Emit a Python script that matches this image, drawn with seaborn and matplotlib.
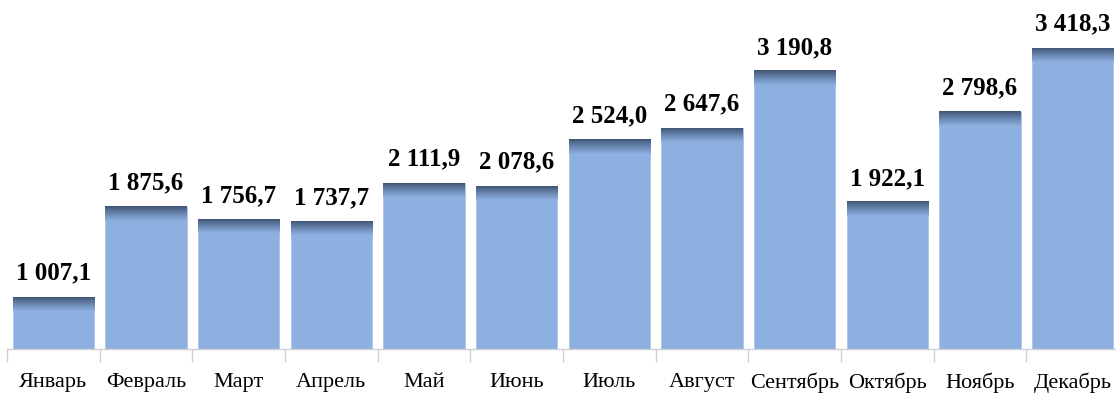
import numpy as np
import pandas as pd
import matplotlib
matplotlib.use("Agg")
import matplotlib.pyplot as plt
import seaborn as sns
from matplotlib.colors import to_rgb

months = ["Январь", "Февраль", "Март", "Апрель", "Май", "Июнь",
          "Июль", "Август", "Сентябрь", "Октябрь", "Ноябрь", "Декабрь"]
values = [1007.1, 1875.6, 1756.7, 1737.7, 2111.9, 2078.6,
          2524.0, 2647.6, 3190.8, 1922.1, 2798.6, 3418.3]

bar_color = "#8DB0E1"
top_color = "#3F5474"

sns.set_theme(style="white")
plt.rcParams["font.family"] = ["Liberation Serif", "DejaVu Serif"]

df = pd.DataFrame({"month": months, "value": values})

fig = plt.figure(figsize=(11.16, 3.94), dpi=100)
ax = fig.add_axes([7 / 1116, 1 - 349 / 394, 1112 / 1116, 349 / 394])

sns.barplot(data=df, x="month", y="value", color=bar_color, saturation=1,
            width=0.875, edgecolor="#A9C3E8", linewidth=0.6, ax=ax, zorder=2)

ax.set_xlim(-0.5, len(months) - 0.5)
ax.set_ylim(500, 3884)

# dark shaded band along the top of every bar
band_px = 14
y0, y1 = ax.get_ylim()
band = band_px * (y1 - y0) / (ax.bbox.height)
c_top = np.array(to_rgb(top_color))
c_bar = np.array(to_rgb(bar_color))
t = np.linspace(0, 1, 64)[:, None]
ramp = np.clip(t ** 0.9, 0, 1)
grad = c_top[None, :] * (1 - ramp) + c_bar[None, :] * ramp
img = grad[:, None, :]
for p in ax.patches:
    x0, w, h = p.get_x(), p.get_width(), p.get_height()
    top = p.get_y() + h
    ax.imshow(img, extent=[x0, x0 + w, top - band, top], origin="upper",
              aspect="auto", zorder=3, interpolation="bilinear")
    ax.annotate(f"{h:,.1f}".replace(",", " ").replace(".", ","),
                xy=(x0 + w / 2, top), xytext=(0, 9), textcoords="offset points",
                ha="center", va="bottom", fontsize=18, fontweight="bold",
                color="black")
ax.set_xlim(-0.5, len(months) - 0.5)
ax.set_ylim(500, 3884)

# category separators below the baseline, names centered between them
n = len(months)
ax.set_xticks(np.arange(n + 1) - 0.5)
ax.set_xticklabels([])
ax.set_xticks(np.arange(n), minor=True)
ax.set_xticklabels(months, minor=True, fontsize=16, color="black")
ax.tick_params(axis="x", which="major", length=9, width=1, color="#D0D0D0",
               direction="out", bottom=True)
ax.tick_params(axis="x", which="minor", length=0, pad=17, labelcolor="black")

ax.set_yticks([])
ax.set_xlabel("")
ax.set_ylabel("")
for side in ["top", "right", "left"]:
    ax.spines[side].set_visible(False)
ax.spines["bottom"].set_color("#D0D0D0")
ax.spines["bottom"].set_linewidth(1)

fig.savefig("out.png", dpi=100)
